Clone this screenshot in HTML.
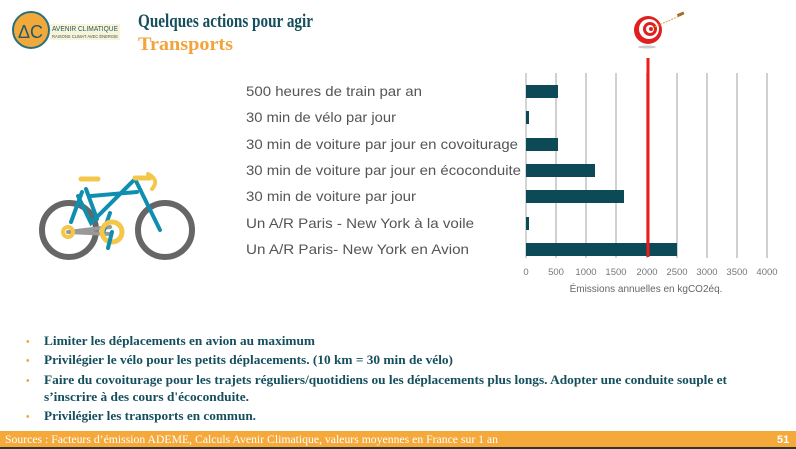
<!DOCTYPE html>
<html><head><meta charset="utf-8"><style>html,body{margin:0;padding:0;background:#fff}svg{display:block}</style></head><body>
<svg width="796" height="449" viewBox="0 0 796 449" xmlns="http://www.w3.org/2000/svg">
<rect width="796" height="449" fill="#fff"/>
<circle cx="31" cy="30" r="18" fill="#f2a93b" stroke="#2a6f80" stroke-width="2"/>
<text x="18" y="38" font-family="Liberation Sans,sans-serif" font-size="18" fill="#1d5a6a">ΔC</text>
<rect x="50" y="24" width="70" height="16" fill="#fbf3d6"/>
<text x="52" y="31" font-family="Liberation Sans,sans-serif" font-size="7" fill="#1d5a6a" textLength="66" lengthAdjust="spacingAndGlyphs">AVENIR CLIMATIQUE</text>
<text x="52" y="38" font-family="Liberation Sans,sans-serif" font-size="4.5" fill="#1d5a6a" textLength="66" lengthAdjust="spacingAndGlyphs">RAISONS CLIMAT AVEC ÉNERGIE</text>
<text x="138" y="27" font-family="Liberation Serif,serif" font-weight="bold" font-size="19" fill="#154f5d" textLength="175" lengthAdjust="spacingAndGlyphs">Quelques actions pour agir</text>
<text x="138" y="50" font-family="Liberation Serif,serif" font-weight="bold" font-size="19" fill="#f2a33a" textLength="95" lengthAdjust="spacingAndGlyphs">Transports</text>
<ellipse cx="647" cy="47" rx="9" ry="1.5" fill="#ccc"/>
<circle cx="648" cy="30" r="14" fill="#e02020"/>
<circle cx="649" cy="29" r="10" fill="#fff"/>
<circle cx="650" cy="29" r="7" fill="#e02020"/>
<circle cx="650" cy="29" r="4" fill="#fff"/>
<circle cx="651" cy="29" r="2" fill="#e02020"/>
<line x1="652" y1="28" x2="682" y2="15" stroke="#e0a040" stroke-width="1" stroke-dasharray="2,1"/>
<rect x="677" y="13" width="7" height="3" fill="#a07030" transform="rotate(-23 680 14)"/>
<g fill="none" stroke-linecap="round">
<circle cx="69" cy="230" r="27" stroke="#666" stroke-width="6"/>
<circle cx="165" cy="230" r="27" stroke="#666" stroke-width="6"/>
<path d="M68 232 L110 234 M68 232 L110 227" stroke="#999" stroke-width="4"/>
<path d="M78 196 L91 223 L135 179 L160 230 M86 189 L97 219 M91 196 L137 192 M71 222 L82 192 M103 233 L110 213" stroke="#0f8fb0" stroke-width="4"/>
<path d="M81 179 L98 179 M135 178 L150 178" stroke="#f3c84a" stroke-width="5"/>
<path d="M148 174 Q160 180 152 189" stroke="#f3c84a" stroke-width="4"/>
<circle cx="68" cy="232" r="5" stroke="#f3c84a" stroke-width="4"/>
<circle cx="112" cy="232" r="10" stroke="#f3c84a" stroke-width="5"/>
<path d="M112 232 L108 248" stroke="#0f8fb0" stroke-width="4"/>
</g>
<g stroke="#d0d0d0" stroke-width="2">
<line x1="556" y1="73" x2="556" y2="258"/><line x1="586" y1="73" x2="586" y2="258"/><line x1="616" y1="73" x2="616" y2="258"/><line x1="647" y1="73" x2="647" y2="258"/><line x1="677" y1="73" x2="677" y2="258"/><line x1="707" y1="73" x2="707" y2="258"/><line x1="737" y1="73" x2="737" y2="258"/><line x1="767" y1="73" x2="767" y2="258"/>
</g>
<line x1="526" y1="73" x2="526" y2="258" stroke="#aaa" stroke-width="1"/>
<g fill="#0d4a58">
<rect x="526" y="85" width="32" height="13"/>
<rect x="526" y="111" width="3" height="13"/>
<rect x="526" y="138" width="32" height="13"/>
<rect x="526" y="164" width="69" height="13"/>
<rect x="526" y="190" width="98" height="13"/>
<rect x="526" y="217" width="3" height="13"/>
<rect x="526" y="243" width="151" height="13"/>
</g>
<line x1="648" y1="58" x2="648" y2="257" stroke="#ee1c1c" stroke-width="3"/>
<g font-family="Liberation Sans,sans-serif" font-size="14" fill="#555">
<text x="246" y="96" textLength="176" lengthAdjust="spacingAndGlyphs">500 heures de train par an</text>
<text x="246" y="122" textLength="150" lengthAdjust="spacingAndGlyphs">30 min de vélo par jour</text>
<text x="246" y="149" textLength="272" lengthAdjust="spacingAndGlyphs">30 min de voiture par jour en covoiturage</text>
<text x="246" y="175" textLength="275" lengthAdjust="spacingAndGlyphs">30 min de voiture par jour en écoconduite</text>
<text x="246" y="201" textLength="170" lengthAdjust="spacingAndGlyphs">30 min de voiture par jour</text>
<text x="246" y="228" textLength="228" lengthAdjust="spacingAndGlyphs">Un A/R Paris - New York à la voile</text>
<text x="246" y="254" textLength="223" lengthAdjust="spacingAndGlyphs">Un A/R Paris- New York en Avion</text>
</g>
<g font-family="Liberation Sans,sans-serif" font-size="9.5" fill="#777" text-anchor="middle">
<text x="526" y="275">0</text><text x="556" y="275">500</text><text x="586" y="275">1000</text><text x="616" y="275">1500</text><text x="647" y="275">2000</text><text x="677" y="275">2500</text><text x="707" y="275">3000</text><text x="737" y="275">3500</text><text x="767" y="275">4000</text>
<text x="646" y="292" font-size="10" fill="#666">Émissions annuelles en kgCO2éq.</text>
</g>
<g font-family="Liberation Serif,serif" font-weight="bold" font-size="13" fill="#154f5d">
<text x="26" y="345" fill="#f2a33a" font-size="10">•</text>
<text x="44" y="345" textLength="271" lengthAdjust="spacingAndGlyphs">Limiter les déplacements en avion au maximum</text>
<text x="26" y="364" fill="#f2a33a" font-size="10">•</text>
<text x="44" y="364" textLength="409" lengthAdjust="spacingAndGlyphs">Privilégier le vélo pour les petits déplacements. (10 km = 30 min de vélo)</text>
<text x="26" y="384" fill="#f2a33a" font-size="10">•</text>
<text x="44" y="384" textLength="683" lengthAdjust="spacingAndGlyphs">Faire du covoiturage pour les trajets réguliers/quotidiens ou les déplacements plus longs. Adopter une conduite souple et</text>
<text x="44" y="401" textLength="205" lengthAdjust="spacingAndGlyphs">s’inscrire à des cours d'écoconduite.</text>
<text x="26" y="420" fill="#f2a33a" font-size="10">•</text>
<text x="44" y="420" textLength="212" lengthAdjust="spacingAndGlyphs">Privilégier les transports en commun.</text>
</g>
<rect x="0" y="431" width="796" height="16" fill="#f4a93a"/>
<rect x="0" y="447" width="796" height="2" fill="#333"/>
<text x="5" y="443" font-family="Liberation Serif,serif" font-size="12" fill="#fff" textLength="493" lengthAdjust="spacingAndGlyphs">Sources : Facteurs d’émission ADEME, Calculs Avenir Climatique, valeurs moyennes en France sur 1 an</text>
<text x="777" y="443" font-family="Liberation Sans,sans-serif" font-weight="bold" font-size="11" fill="#fff">51</text>
</svg>
</body></html>
